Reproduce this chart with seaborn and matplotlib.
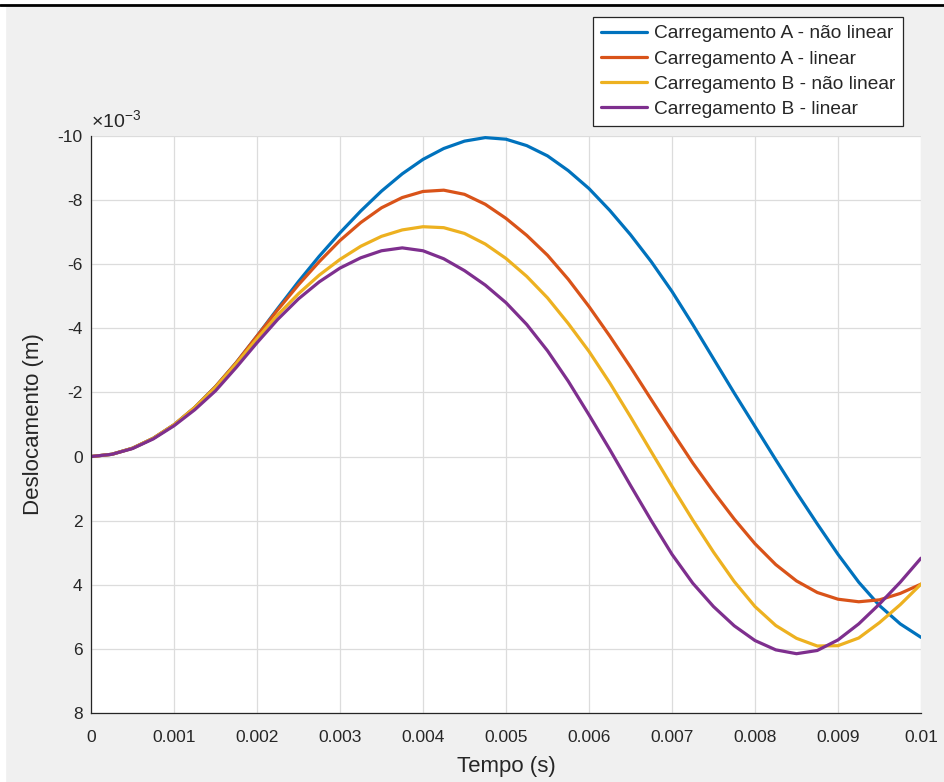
import numpy as np
import pandas as pd
import seaborn as sns
import matplotlib.pyplot as plt
from matplotlib.lines import Line2D
from matplotlib.patches import Rectangle

# tempo (s), passo de 0.25 ms
tempo = np.linspace(0, 0.01, 41)

# deslocamentos (x 1e-3 m)
a_nao_linear = [0, -0.07, -0.26, -0.57, -0.99, -1.53, -2.18, -2.93, -3.76, -4.62,
                -5.46, -6.25, -6.98, -7.66, -8.28, -8.82, -9.27, -9.61, -9.84, -9.95,
                -9.90, -9.70, -9.38, -8.92, -8.36, -7.68, -6.92, -6.08, -5.15, -4.12,
                -3.05, -1.98, -0.94, 0.10, 1.12, 2.10, 3.05, 3.92, 4.65, 5.22, 5.64]
a_linear = [0, -0.07, -0.26, -0.57, -0.99, -1.53, -2.18, -2.93, -3.76, -4.58,
            -5.36, -6.08, -6.74, -7.30, -7.76, -8.08, -8.27, -8.31, -8.18, -7.87,
            -7.43, -6.90, -6.28, -5.53, -4.68, -3.76, -2.79, -1.78, -0.78, 0.20,
            1.10, 1.95, 2.72, 3.37, 3.88, 4.24, 4.45, 4.53, 4.47, 4.27, 3.98]
b_nao_linear = [0, -0.07, -0.26, -0.57, -0.99, -1.53, -2.16, -2.90, -3.68, -4.42,
                -5.08, -5.66, -6.15, -6.56, -6.87, -7.07, -7.17, -7.14, -6.96, -6.63,
                -6.18, -5.62, -4.95, -4.15, -3.28, -2.30, -1.24, -0.15, 0.93, 1.98,
                2.98, 3.90, 4.68, 5.27, 5.67, 5.91, 5.90, 5.66, 5.18, 4.62, 3.98]
b_linear = [0, -0.07, -0.25, -0.55, -0.96, -1.46, -2.05, -2.78, -3.55, -4.28,
            -4.92, -5.45, -5.88, -6.20, -6.42, -6.51, -6.42, -6.17, -5.80, -5.35,
            -4.80, -4.12, -3.30, -2.35, -1.30, -0.22, 0.90, 2.00, 3.05, 3.95,
            4.68, 5.28, 5.74, 6.03, 6.15, 6.05, 5.72, 5.22, 4.60, 3.92, 3.17]

nomes = ['Carregamento A - não linear', 'Carregamento A - linear',
         'Carregamento B - não linear', 'Carregamento B - linear']
cores = ['#0072BD', '#D95319', '#EDB120', '#7E2F8E']

df = pd.concat([pd.DataFrame({'t': tempo, 'u': s, 'serie': n})
                for s, n in zip([a_nao_linear, a_linear, b_nao_linear, b_linear], nomes)])

sns.set_style('white')
plt.rcParams['font.family'] = ['Liberation Sans', 'DejaVu Sans']
plt.rcParams['mathtext.fontset'] = 'custom'
plt.rcParams['mathtext.rm'] = 'Liberation Sans'
plt.rcParams['mathtext.it'] = 'Liberation Sans'

W, H = 944, 782
fig = plt.figure(figsize=(W / 100, H / 100), dpi=100, facecolor='#f0f0f0')
ax = fig.add_axes([91 / W, 1 - 713 / H, (921 - 91) / W, (713 - 136) / H])
ax.set_facecolor('white')

sns.lineplot(data=df, x='t', y='u', hue='serie', palette=cores, hue_order=nomes,
             linewidth=2.3, ax=ax, legend=False, sort=False)
for ln in ax.get_lines():
    ln.set_solid_joinstyle('round')

ax.set_xlim(0, 0.01)
ax.set_ylim(8, -10)
ax.set_xticks(np.linspace(0, 0.01, 11))
ax.set_xticklabels(['0'] + ['%.3f' % v for v in np.linspace(0.001, 0.009, 9)] + ['0.01'])
ax.set_yticks(np.arange(-10, 9, 2))
ax.set_yticklabels([str(v) for v in range(-10, 9, 2)])
ax.grid(True, color='#dcdcdc', linewidth=0.9)
for s in ['top', 'right']:
    ax.spines[s].set_visible(False)
for s in ['left', 'bottom']:
    ax.spines[s].set_color('#262626')
    ax.spines[s].set_linewidth(0.9)
ax.tick_params(direction='in', length=5, width=0.9, colors='#262626',
               labelsize=12.5, pad=6)
ax.tick_params(axis='x', pad=12)
ax.set_xlabel('Tempo (s)', fontsize=16, color='#262626', labelpad=8)
ax.set_ylabel('Deslocamento (m)', fontsize=16, color='#262626', labelpad=10)
ax.text(0.0, 1.008, r'$\times10^{-3}$', transform=ax.transAxes, fontsize=14,
        color='#262626', ha='left', va='bottom')

handles = [Line2D([], [], color=c, linewidth=2.3) for c in cores]
leg = ax.legend(handles, nomes, loc='upper right',
                bbox_to_anchor=(903 / W, 1 - 17 / H), bbox_transform=fig.transFigure,
                fontsize=13.8, frameon=True, fancybox=False, handlelength=2.4,
                handletextpad=0.35, labelspacing=0.4, borderpad=0.42,
                borderaxespad=0)
leg.get_frame().set_edgecolor('#262626')
leg.get_frame().set_linewidth(0.9)
leg.get_frame().set_facecolor('white')
leg.get_frame().set_alpha(1)
for t in leg.get_texts():
    t.set_color('#262626')

# moldura da captura de tela
fig.patches.append(Rectangle((0, 1 - 4 / H), 1, 4 / H, transform=fig.transFigure,
                             color='white', zorder=0))
fig.patches.append(Rectangle((0, 0), 5 / W, 1, transform=fig.transFigure,
                             color='white', zorder=0))
fig.add_artist(Line2D([0, 1], [1 - 5 / H, 1 - 5 / H], transform=fig.transFigure,
                      color='black', linewidth=2))

fig.savefig('out.png', dpi=100, facecolor=fig.get_facecolor())
